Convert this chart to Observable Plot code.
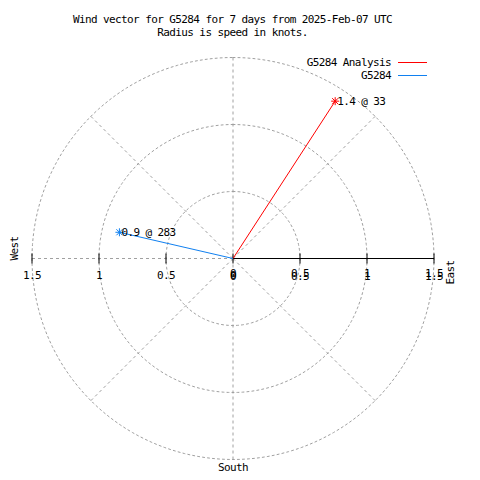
<!DOCTYPE html>
<html>
<head>
<meta charset="utf-8">
<script src="https://cdn.jsdelivr.net/npm/d3@7"></script>
<script src="https://cdn.jsdelivr.net/npm/@observablehq/plot@0.6"></script>
<style>
  html, body { margin: 0; padding: 0; background: #fff; }
  #wrap { position: relative; width: 480px; height: 480px; font-family: "DejaVu Sans Mono", monospace; font-size: 11px; letter-spacing: -0.6px; color: #000; }
  #title { position: absolute; left: 0; width: 465px; top: 13px; text-align: center; line-height: 13px; white-space: pre; }
  #legend { position: absolute; right: 53px; top: 56px; line-height: 13px; }
  .row { display: flex; align-items: center; justify-content: flex-end; }
  .sw { display: inline-block; width: 29px; height: 0; border-top: 1px solid; margin-left: 7px; }
  svg { position: absolute; left: 0; top: 0; }
</style>
</head>
<body>
<div id="wrap"></div>
<script>
// ---- data ----
const titleLines = ["Wind vector for G5284 for 7 days from 2025-Feb-07 UTC", "Radius is speed in knots."];
const seriesNames = ["G5284 Analysis", "G5284"];
const seriesColors = ["#ff0000", "#1080f0"];
const speeds = [1.40, 0.87];        // knots (labelled to one decimal)
const directions = [33, 283];       // degrees from north, clockwise
const ringRadii = [0.5, 1, 1.5];
const spokeAngles = [0, 45, 90, 135, 180, 225, 270, 315];
const tickValues = [-1.5, -1, -0.5, 0, 0.5, 1, 1.5];
const leftTickLabels = ["1.5", "1", "0.5", "0"];
const leftTickPos = [-1.5, -1, -0.5, 0];
const rightTickLabels = ["0", "0.5", "1", "1.5"];
const rightTickPos = [0, 0.5, 1, 1.5];
const compassLabels = ["West", "East", "South"];

const rad = d => d * Math.PI / 180;
const vectors = speeds.map((s, i) => ({
  name: seriesNames[i], color: seriesColors[i], speed: s, dir: directions[i],
  x: s * Math.sin(rad(directions[i])), y: s * Math.cos(rad(directions[i]))
}));

const rings = ringRadii.flatMap(r => d3.range(0, 361, 2).map(a => ({r, x: r * Math.sin(rad(a)), y: r * Math.cos(rad(a))})));
const spokes = spokeAngles.map(a => ({a, x: 1.5 * Math.sin(rad(a)), y: 1.5 * Math.cos(rad(a))}));

const vtick = {draw(ctx, size) { const r = Math.sqrt(size / Math.PI); ctx.moveTo(0, -r); ctx.lineTo(0, r); }};
const star = {draw(ctx, size) {
  const r = Math.sqrt(size / Math.PI); const q = r * 0.75;
  ctx.moveTo(-r, 0); ctx.lineTo(r, 0); ctx.moveTo(0, -r); ctx.lineTo(0, r);
  ctx.moveTo(-q, -q); ctx.lineTo(q, q); ctx.moveTo(-q, q); ctx.lineTo(q, -q);
}};

const grid = "#a0a0a0";
const chart = Plot.plot({
  width: 480, height: 480,
  marginLeft: 31.5, marginRight: 46.5, marginTop: 57, marginBottom: 21,
  x: {domain: [-1.5, 1.5], axis: null},
  y: {domain: [-1.5, 1.5], axis: null},
  style: {fontFamily: '"DejaVu Sans Mono", monospace', fontSize: "11px", background: "white", overflow: "visible"},
  marks: [
    Plot.line(rings, {x: "x", y: "y", z: "r", stroke: grid, strokeDasharray: "2,3", strokeWidth: 1}),
    Plot.link(spokes, {x1: 0, y1: 0, x2: "x", y2: "y", stroke: grid, strokeDasharray: "3,3", strokeWidth: 1}),
    Plot.link([0], {x1: 0, y1: 0, x2: 1.5, y2: 0, stroke: "black", strokeWidth: 1}),
    Plot.dot(tickValues, {x: d => d, y: 0, symbol: vtick, r: 5, stroke: "black", strokeWidth: 1}),
    Plot.text(leftTickLabels, {x: (d, i) => leftTickPos[i], y: 0, text: d => d, dy: 17, fill: "black", letterSpacing: "-0.6px"}),
    Plot.text(rightTickLabels, {x: (d, i) => rightTickPos[i], y: 0, text: d => d, dy: 15, fill: "black", letterSpacing: "-0.6px"}),
    Plot.text(rightTickLabels, {x: (d, i) => rightTickPos[i], y: 0, text: d => d, dy: 18, fill: "black", letterSpacing: "-0.6px"}),
    Plot.link(vectors, {x1: 0, y1: 0, x2: "x", y2: "y", stroke: "color", strokeWidth: 1}),
    Plot.dot(vectors, {x: "x", y: "y", symbol: star, r: 4, stroke: "color", strokeWidth: 1}),
    Plot.text(vectors, {x: "x", y: "y", text: d => `${d.speed.toFixed(1)} @ ${d.dir}`, textAnchor: "start", dx: 2, dy: 0, fill: "black", letterSpacing: "-0.6px"}),
    Plot.text([compassLabels[0]], {frameAnchor: "left", text: d => d, rotate: -90, dx: -17.5, dy: 2, fill: "black", letterSpacing: "-0.6px"}),
    Plot.text([compassLabels[1]], {frameAnchor: "right", text: d => d, rotate: -90, dx: 16.5, dy: 2, fill: "black", letterSpacing: "-0.6px"}),
    Plot.text([compassLabels[2]], {frameAnchor: "bottom", text: d => d, dy: 11, fill: "black", letterSpacing: "-0.6px"})
  ]
});

const wrap = document.getElementById("wrap");
wrap.appendChild(chart);
const title = document.createElement("div");
title.id = "title";
title.textContent = titleLines.join("\n");
wrap.appendChild(title);
const legend = document.createElement("div");
legend.id = "legend";
seriesNames.forEach((n, i) => {
  const row = document.createElement("div");
  row.className = "row";
  const t = document.createElement("span"); t.textContent = n;
  const s = document.createElement("span"); s.className = "sw"; s.style.borderTopColor = seriesColors[i];
  row.appendChild(t); row.appendChild(s);
  legend.appendChild(row);
});
wrap.appendChild(legend);
</script>
</body>
</html>
